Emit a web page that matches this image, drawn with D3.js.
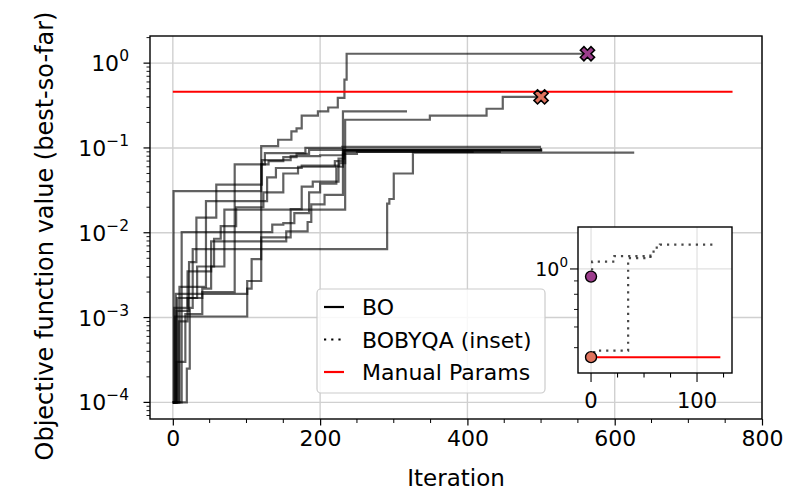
<!DOCTYPE html>
<html>
<head>
<meta charset="utf-8">
<script src="https://cdn.jsdelivr.net/npm/d3@7"></script>
<style>
  body { margin: 0; background: #fff; }
  text { font-family: "DejaVu Sans", sans-serif; fill: #000; }
</style>
</head>
<body>
<div id="chart"></div>
<script>
// BO runs, each point = [iteration, best-so-far value] (value changes at that iteration)
var boRun1 = [[0,1e-4],[4,1.9e-3],[101,2.7e-3],[120,0.105],[143,0.125],[161,0.157],[168,0.17],[175,0.24],[197,0.27],[211,0.30],[224,0.39],[233,0.64],[236,1.29],[563,1.29]];
var boRun2 = [[0,1e-4],[8,9e-4],[20,3.5e-3],[52,4e-3],[70,0.0187],[234,0.215],[349,0.24],[426,0.29],[448,0.40],[500,0.40]];
var boRun3 = [[0,1e-4],[6,1.7e-3],[40,2.2e-3],[52,7.9e-3],[154,0.0104],[183,0.0134],[188,0.0216],[206,0.028],[231,0.27],[318,0.27]];
var boRun4 = [[0,1e-4],[19,2.5e-4],[23,1.3e-3],[27,0.0064],[291,0.022],[294,0.025],[300,0.05],[326,0.088],[625,0.091]];
var boRun5 = [[0,1e-4],[1,0.031],[118,0.031],[120,0.064],[130,0.07],[150,0.078],[168,0.085],[185,0.095],[500,0.097]];
var boRun6 = [[0,1e-4],[5,1.2e-3],[22,0.0045],[32,0.0151],[59,0.037],[118,0.037],[121,0.072],[160,0.08],[200,0.082],[232,0.092],[500,0.094]];
var boRun7 = [[0,1e-4],[9,2.3e-3],[45,0.0236],[120,0.0236],[128,0.045],[140,0.058],[175,0.062],[226,0.066],[234,0.09],[444,0.092]];
var boRun8 = [[0,1e-4],[5,3e-4],[17,1.1e-3],[40,0.002],[84,0.064],[125,0.087],[180,0.1],[230,0.103],[500,0.103]];
var boRun9 = [[0,1e-4],[12,0.0102],[130,0.0102],[135,0.0125],[150,0.013],[165,0.017],[185,0.03],[200,0.038],[222,0.06],[231,0.085],[250,0.09],[407,0.092]];
var boRun10 = [[0,1e-4],[3,1.03e-3],[101,2.2e-3],[107,4.9e-3],[120,0.0088],[160,0.019],[175,0.035],[190,0.04],[225,0.075],[233,0.095],[500,0.1]];
var boRun11 = [[0,1e-4],[2,1.3e-3],[20,1.7e-3],[33,4e-3],[56,0.0085],[65,0.012],[86,0.02],[123,0.03],[150,0.05],[170,0.06],[220,0.07],[231,0.095],[500,0.095]];
var boRuns = [boRun1, boRun2, boRun3, boRun4, boRun5, boRun6, boRun7, boRun8, boRun9, boRun10, boRun11];

// end markers of the two runs that were handed to BOBYQA
var markerIters = [563, 500];
var markerValues = [1.29, 0.40];
var markerColors = ["#9c3d8c", "#e0735e"];

// manual parameters reference
var manualValue = 0.46;
var manualEnd = 760;

// BOBYQA runs (inset)
var bobyqaRunA = [[0,0.935],[1,1.066],[22,1.12],[56,1.14],[59,1.18],[62,1.22],[65,1.24],[118,1.24]];
var bobyqaRunB = [[0,0.46],[3,0.487],[35,1.1],[56,1.12]];
var insetManualEnd = 122;

var xTicks = [0, 200, 400, 600, 800];
var yTickExps = [-4, -3, -2, -1, 0];
var legendLabels = ["BO", "BOBYQA (inset)", "Manual Params"];

var width = 802, height = 494;

var svg = d3.select("#chart").append("svg")
    .attr("width", width)
    .attr("height", height);

var x = d3.scaleLinear().domain([-31, 800]).range([150, 762]);
var y = d3.scaleLog().domain([Math.pow(10, -4.196), Math.pow(10, 0.32)]).range([419, 36]);

// grid
svg.append("g").selectAll("line").data(xTicks).enter().append("line")
    .attr("x1", d => x(d)).attr("x2", d => x(d))
    .attr("y1", 36).attr("y2", 419)
    .attr("stroke", "#d0d0d0").attr("stroke-width", 1.4);
svg.append("g").selectAll("line").data(yTickExps).enter().append("line")
    .attr("x1", 150).attr("x2", 762)
    .attr("y1", d => y(Math.pow(10, d))).attr("y2", d => y(Math.pow(10, d)))
    .attr("stroke", "#d0d0d0").attr("stroke-width", 1.4);

var line = d3.line()
    .x(d => x(d[0]))
    .y(d => y(d[1]))
    .curve(d3.curveStepAfter);

svg.append("g").selectAll("path").data(boRuns).enter().append("path")
    .attr("d", line)
    .attr("fill", "none")
    .attr("stroke", "#000")
    .attr("stroke-opacity", 0.62)
    .attr("stroke-width", 2.2);

svg.append("line")
    .attr("x1", x(0)).attr("x2", x(manualEnd))
    .attr("y1", y(manualValue)).attr("y2", y(manualValue))
    .attr("stroke", "#ff0000").attr("stroke-width", 2);

var cross = d3.symbol().type(d3.symbolCross).size(125);
svg.append("g").selectAll("path").data(markerIters).enter().append("path")
    .attr("d", cross)
    .attr("transform", (d, i) => "translate(" + x(d) + "," + y(markerValues[i]) + ") rotate(45)")
    .attr("fill", (d, i) => markerColors[i])
    .attr("stroke", "#000").attr("stroke-width", 1.6);

// axes
var xAxis = d3.axisBottom(x).tickValues(xTicks).tickSize(6.5).tickPadding(5);
var gx = svg.append("g").attr("transform", "translate(0,419)").call(xAxis);
gx.selectAll("text").attr("font-size", 22).style("font-family", "DejaVu Sans");
gx.selectAll("line").attr("stroke-width", 1.2);
gx.select(".domain").remove();
svg.append("g").selectAll("line").data(d3.range(50, 800, 50).filter(d => d % 200 !== 0)).enter().append("line")
    .attr("x1", d => x(d)).attr("x2", d => x(d))
    .attr("y1", 419).attr("y2", 423)
    .attr("stroke", "#000").attr("stroke-width", 1);

var gy = svg.append("g").attr("transform", "translate(150,0)");
gy.selectAll(".major").data(yTickExps).enter().append("line")
    .attr("x1", -6.5).attr("x2", 0)
    .attr("y1", d => y(Math.pow(10, d))).attr("y2", d => y(Math.pow(10, d)))
    .attr("stroke", "#000").attr("stroke-width", 1.2);
var minorVals = [];
[-5, -4, -3, -2, -1, 0].forEach(function(e) {
  for (var m = 2; m <= 9; m++) {
    var v = m * Math.pow(10, e);
    if (v > y.domain()[0] && v < y.domain()[1]) minorVals.push(v);
  }
});
gy.selectAll(".minor").data(minorVals).enter().append("line")
    .attr("x1", -3.5).attr("x2", 0)
    .attr("y1", d => y(d)).attr("y2", d => y(d))
    .attr("stroke", "#000").attr("stroke-width", 0.9);
var ylab = gy.selectAll(".lab").data(yTickExps).enter().append("text")
    .attr("x", -21).attr("y", d => y(Math.pow(10, d)) + 8)
    .attr("text-anchor", "end")
    .attr("font-size", 22);
ylab.append("tspan").text("10");
ylab.append("tspan").attr("dy", -10).attr("font-size", 15.5)
    .text(d => d === 0 ? "0" : "\u2212" + Math.abs(d));

svg.append("rect")
    .attr("x", 150).attr("y", 36).attr("width", 612).attr("height", 383)
    .attr("fill", "none").attr("stroke", "#000").attr("stroke-width", 1.4);

svg.append("text")
    .attr("x", 456).attr("y", 486)
    .attr("text-anchor", "middle").attr("font-size", 23)
    .text("Iteration");
svg.append("text")
    .attr("transform", "translate(53,236) rotate(-90)")
    .attr("text-anchor", "middle").attr("font-size", 24)
    .text("Objective function value (best-so-far)");

// legend
var leg = svg.append("g");
leg.append("rect")
    .attr("x", 317).attr("y", 289).attr("width", 228).attr("height", 104).attr("rx", 4)
    .attr("fill", "#fff").attr("fill-opacity", 0.85)
    .attr("stroke", "#cccccc").attr("stroke-width", 1.2);
var legStyles = [
  {stroke: "#000", dash: null},
  {stroke: "#000", dash: "2.2,5"},
  {stroke: "#ff0000", dash: null}
];
legendLabels.forEach(function(lbl, i) {
  var ly = 307 + i * 32.5;
  leg.append("line")
      .attr("x1", 324).attr("x2", 344).attr("y1", ly).attr("y2", ly)
      .attr("stroke", legStyles[i].stroke).attr("stroke-width", 2.2)
      .attr("stroke-dasharray", legStyles[i].dash);
  leg.append("text")
      .attr("x", 362).attr("y", ly + 8)
      .attr("font-size", 22)
      .text(lbl);
});

// inset
var ix = d3.scaleLinear().domain([-12.3, 133]).range([578, 732]);
var iy = d3.scaleLog().domain([0.40, 1.447]).range([373, 227]);
var inset = svg.append("g");
inset.append("rect")
    .attr("x", 578).attr("y", 227).attr("width", 154).attr("height", 146)
    .attr("fill", "#fff");
inset.selectAll(".ig").data([0, 100]).enter().append("line")
    .attr("x1", d => ix(d)).attr("x2", d => ix(d)).attr("y1", 227).attr("y2", 373)
    .attr("stroke", "#e0e0e0").attr("stroke-width", 1.2);
inset.append("line")
    .attr("x1", 578).attr("x2", 732).attr("y1", iy(1)).attr("y2", iy(1))
    .attr("stroke", "#e0e0e0").attr("stroke-width", 1.2);

var iline = d3.line().x(d => ix(d[0])).y(d => iy(d[1])).curve(d3.curveStepAfter);
inset.selectAll(".run").data([bobyqaRunA, bobyqaRunB]).enter().append("path")
    .attr("d", iline)
    .attr("fill", "none").attr("stroke", "#333").attr("stroke-opacity", 0.9)
    .attr("stroke-width", 2.2).attr("stroke-dasharray", "2.2,5");
inset.append("line")
    .attr("x1", ix(0)).attr("x2", ix(insetManualEnd))
    .attr("y1", iy(manualValue)).attr("y2", iy(manualValue))
    .attr("stroke", "#ff0000").attr("stroke-width", 2);
inset.selectAll(".dot").data([bobyqaRunA[0], bobyqaRunB[0]]).enter().append("circle")
    .attr("cx", d => ix(d[0])).attr("cy", d => iy(d[1])).attr("r", 5.5)
    .attr("fill", (d, i) => markerColors[i])
    .attr("stroke", "#000").attr("stroke-width", 1.4);

inset.selectAll(".ixt").data(d3.range(0, 133, 25)).enter().append("line")
    .attr("x1", d => ix(d)).attr("x2", d => ix(d))
    .attr("y1", 373).attr("y2", d => d % 100 === 0 ? 382 : 377.5)
    .attr("stroke", "#000").attr("stroke-width", 1.1);
inset.selectAll(".ixl").data([0, 100]).enter().append("text")
    .attr("x", d => ix(d)).attr("y", 408)
    .attr("text-anchor", "middle").attr("font-size", 21)
    .text(d => d);
var iMinor = [0.5, 0.6, 0.7, 0.8, 0.9];
inset.selectAll(".iyt").data(iMinor).enter().append("line")
    .attr("x1", 574).attr("x2", 578)
    .attr("y1", d => iy(d)).attr("y2", d => iy(d))
    .attr("stroke", "#000").attr("stroke-width", 0.9);
inset.append("line")
    .attr("x1", 570).attr("x2", 578).attr("y1", iy(1)).attr("y2", iy(1))
    .attr("stroke", "#000").attr("stroke-width", 1.1);
var il = inset.append("text")
    .attr("x", 568).attr("y", iy(1) + 7)
    .attr("text-anchor", "end").attr("font-size", 19);
il.append("tspan").text("10");
il.append("tspan").attr("dy", -9).attr("font-size", 13.5).text("0");
inset.append("rect")
    .attr("x", 578).attr("y", 227).attr("width", 154).attr("height", 146)
    .attr("fill", "none").attr("stroke", "#000").attr("stroke-width", 1.4);
</script>
</body>
</html>
